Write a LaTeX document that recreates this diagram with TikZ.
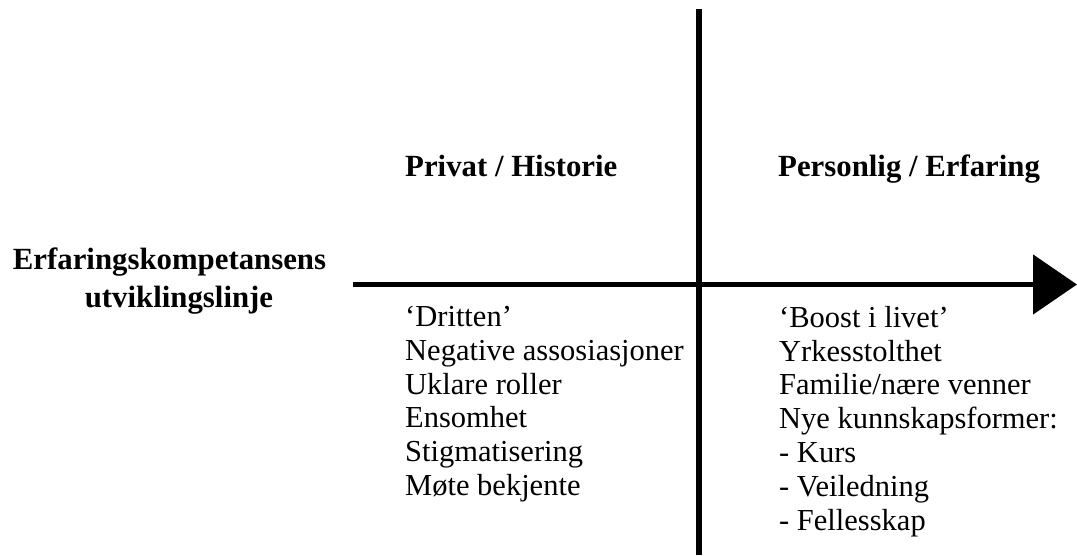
\documentclass[tikz,border=0pt]{standalone}
\usepackage{fontspec}
\setmainfont{Liberation Serif}
\usetikzlibrary{arrows.meta}
\tikzset{
  axis/.style={draw=black, line width=6pt},
  arrowaxis/.style={draw=black, line width=5pt, -{Triangle[length=44pt,width=59pt]}},
  head/.style={anchor=base west, inner sep=0pt, font=\fontsize{30.8}{34}\selectfont\bfseries},
  lbl/.style={anchor=base, inner sep=0pt, font=\fontsize{30.8}{34}\selectfont\bfseries},
  item/.style={anchor=north west, inner sep=0pt, align=left, font=\fontsize{30.5}{33.8}\selectfont},
}
\begin{document}
\begin{tikzpicture}[x=1pt,y=-1pt]
\useasboundingbox (0,0) rectangle (1077,555);
\coordinate (vtop) at (698.7,9);
\coordinate (vbot) at (698.7,555);
\coordinate (hstart) at (352.5,284.5);
\coordinate (hend) at (1077,284.5);
\draw[axis] (vtop) -- (vbot);
\draw[arrowaxis] (hstart) -- (hend);
\node[head] (h1) at (405,176) {Privat / Historie};
\node[head] (h2) at (778,176) {Personlig / Erfaring};
\node[lbl] (l1) at (169.5,269) {Erfaringskompetansens};
\node[lbl] (l2) at (179,307) {utviklingslinje};
\node[item] (left) at (405,306) {‘Dritten’\\Negative assosiasjoner\\Uklare roller\\Ensomhet\\Stigmatisering\\Møte bekjente};
\node[item] (right) at (779,306) {‘Boost i livet’\\Yrkesstolthet\\Familie/nære venner\\Nye kunnskapsformer:\\- Kurs\\- Veiledning\\- Fellesskap};
\end{tikzpicture}
\end{document}
